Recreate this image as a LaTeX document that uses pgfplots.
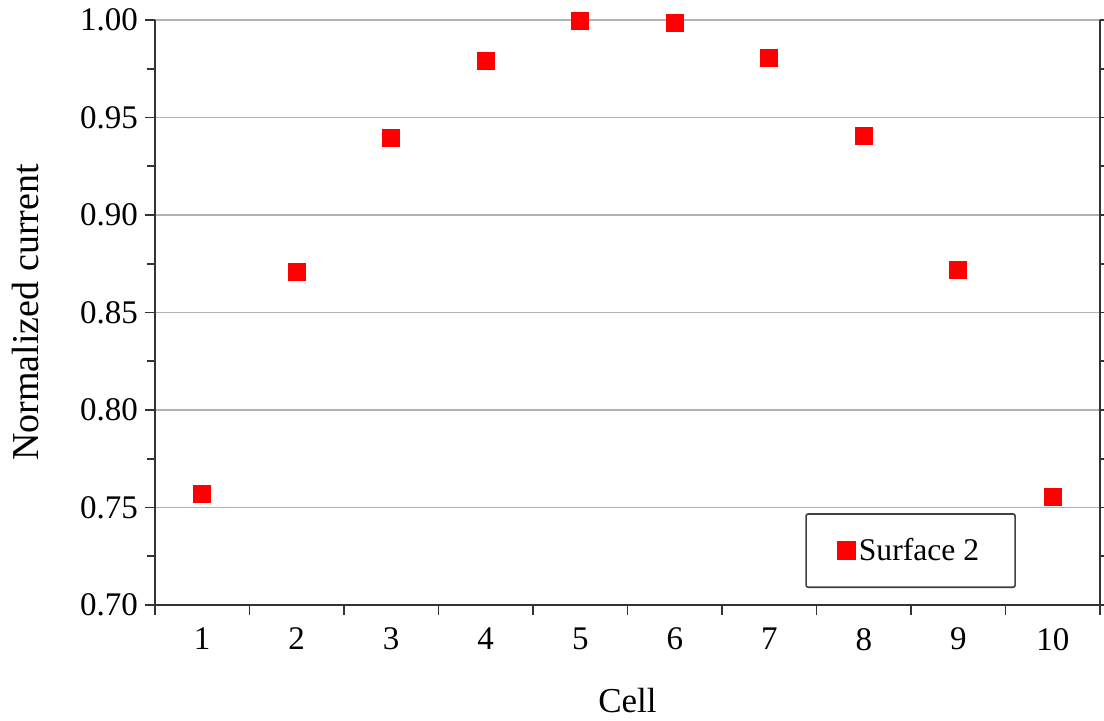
\documentclass[border=0pt]{standalone}
\usepackage{pgfplots}
\pgfplotsset{compat=1.18}
\usepackage{fontspec}
\setmainfont{Liberation Serif}

\begin{document}
\begin{tikzpicture}
\begin{axis}[
    name=ax,
    scale only axis,
    width=472.5pt, height=292.5pt,
    xmin=0.5, xmax=10.5,
    ymin=0.70, ymax=1.00,
    axis x line*=bottom,
    axis y line*=box,
    axis line style={black!80, line width=1pt},
    tick align=outside,
    tick style={black!80, line width=0.8pt},
    major tick length=5pt,
    minor tick length=4pt,
    xtick={0.5,1.5,...,10.5},
    xticklabels={},
    extra x ticks={1,2,3,4,5,6,7,8,9,10},
    extra x tick labels={1,2,3,4,5,6,7,8,9,10},
    extra x tick style={major tick length=0pt, grid=none},
    ytick={0.70,0.75,0.80,0.85,0.90,0.95,1.00},
    minor y tick num=1,
    ytick pos=both,
    yticklabel pos=left,
    ymajorgrids,
    grid style={black!30, line width=0.7pt},
    /pgf/number format/assume math mode=true,
    yticklabel={\pgfmathprintnumber[fixed,precision=2,zerofill]{\tick}},
    tick label style={font=\fontsize{16.5}{19}\selectfont},
    xticklabel style={yshift=-8pt},
    xlabel={Cell},
    ylabel={Normalized current},
    xlabel style={font=\fontsize{17.5}{20}\selectfont, yshift=-7pt},
    ylabel style={font=\fontsize{19}{22}\selectfont, yshift=14pt},
    legend style={
        at={(0.911,0.029)}, anchor=south east,
        draw=black!75, line width=0.8pt, rounded corners=1pt,
        inner xsep=16pt, inner ysep=10pt,
        font=\fontsize{15.8}{18}\selectfont,
        legend cell align=left,
    },
    legend image code/.code={\draw[mark repeat=2,mark phase=2] plot coordinates {(0cm,0cm) (0.12cm,0cm) (0.24cm,0cm)};},
]
\addplot[only marks, mark=square*, mark size=4.2pt, color=red, mark options={fill=red, draw=red}]
coordinates {
    (1,0.757) (2,0.871) (3,0.9395) (4,0.979) (5,0.9995)
    (6,0.9985) (7,0.9805) (8,0.9405) (9,0.872) (10,0.7554)
};
\addlegendentry{Surface 2}
\end{axis}
\pgfresetboundingbox
\path ([xshift=-77.5pt,yshift=-58pt]ax.south west) rectangle ([xshift=2pt,yshift=10pt]ax.north east);
\end{tikzpicture}
\end{document}
